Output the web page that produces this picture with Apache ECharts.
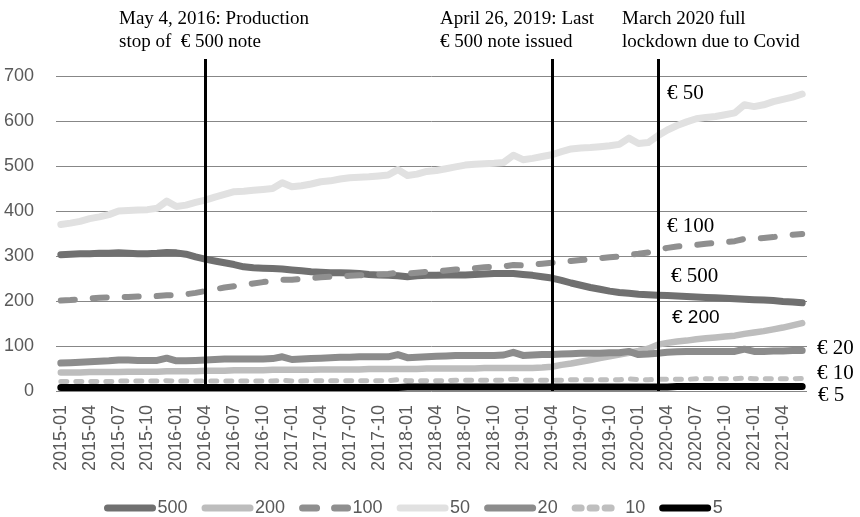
<!DOCTYPE html>
<html>
<head>
<meta charset="utf-8">
<script src="https://cdn.jsdelivr.net/npm/echarts@6/dist/echarts.min.js"></script>
<style>
  html, body { margin: 0; padding: 0; background: #fff; }
  #chart { width: 860px; height: 517px; }
</style>
</head>
<body>
<div id="chart"></div>
<script>
var months = [
  '2015-01','2015-02','2015-03','2015-04','2015-05','2015-06','2015-07','2015-08','2015-09','2015-10','2015-11','2015-12',
  '2016-01','2016-02','2016-03','2016-04','2016-05','2016-06','2016-07','2016-08','2016-09','2016-10','2016-11','2016-12',
  '2017-01','2017-02','2017-03','2017-04','2017-05','2017-06','2017-07','2017-08','2017-09','2017-10','2017-11','2017-12',
  '2018-01','2018-02','2018-03','2018-04','2018-05','2018-06','2018-07','2018-08','2018-09','2018-10','2018-11','2018-12',
  '2019-01','2019-02','2019-03','2019-04','2019-05','2019-06','2019-07','2019-08','2019-09','2019-10','2019-11','2019-12',
  '2020-01','2020-02','2020-03','2020-04','2020-05','2020-06','2020-07','2020-08','2020-09','2020-10','2020-11','2020-12',
  '2021-01','2021-02','2021-03','2021-04','2021-05','2021-06'
];

var note500 = [303,304,305,305,306,306,307,306,305,305,306,308,
  307,304,298,293,289,285,281,276,274,273,272,271,
  269,267,265,264,263,263,262,261,259,258,257,256,
  254,256,257,257,258,258,258,259,260,261,261,261,
  259,257,254,251,246,240,235,230,226,222,219,217,
  215,214,213,212,211,210,209,208,207,206,205,204,
  203,202,201,199,198,196];

var note200 = [41,41,41,42,42,42,42,43,43,43,43,44,
  44,44,44,45,45,45,46,46,46,46,47,47,
  47,47,47,48,48,48,48,48,49,49,49,49,
  49,49,50,50,50,50,50,50,51,51,51,51,
  51,51,52,54,58,61,65,69,73,77,81,85,
  89,94,103,107,110,112,115,117,119,121,123,127,
  130,133,137,141,146,151];

var note100 = [201,202,204,206,207,208,209,209,210,210,211,213,
  213,215,218,222,226,230,233,236,239,242,244,247,
  247,249,251,253,254,255,256,257,258,259,260,263,
  261,263,265,266,268,270,271,273,275,276,277,280,
  279,281,283,285,287,289,291,293,295,297,299,303,
  305,308,314,318,321,323,325,327,329,331,333,338,
  338,340,342,345,347,349];

var note50 = [370,373,377,383,387,392,400,401,402,403,406,422,
  410,413,419,424,431,437,443,444,446,448,450,463,
  454,456,460,465,467,471,474,475,476,478,480,492,
  479,482,488,490,494,498,502,504,505,506,508,524,
  514,517,521,525,532,538,540,541,543,545,548,562,
  550,552,567,580,590,598,605,608,610,614,618,636,
  632,636,643,648,653,660];

var note20 = [62,63,64,65,66,67,69,69,68,68,68,73,
  67,67,68,69,70,71,71,71,71,71,72,76,
  70,71,72,73,74,75,75,76,76,76,76,81,
  74,75,76,77,78,79,79,79,79,79,80,86,
  79,80,81,81,82,83,84,84,84,85,85,88,
  81,82,84,86,87,88,88,88,88,88,88,93,
  88,88,89,89,90,90];

var note10 = [21,21,21,21,21,21,22,22,22,22,22,23,
  22,22,22,22,22,22,22,22,22,22,22,24,
  22,22,23,23,23,23,23,23,23,23,23,25,
  23,23,23,23,23,24,24,24,24,24,24,26,
  24,24,24,24,24,25,25,25,25,25,25,27,
  25,25,26,26,26,26,27,27,27,27,27,29,
  27,27,27,27,27,28];

var note5 = [8,8,8,8,8,8,8,8,8,8,8,8,
  8,8,8,8,8,8,8,8,8,8,8,8,
  8,8,8,8,8,8,8,8,8,8,8,8,
  9,9,9,9,9,9,9,9,9,9,9,9,
  9,9,9,9,9,9,9,9,9,9,9,9,
  9,9,9,9,10,10,10,10,10,10,10,10,
  10,10,10,10,10,10];

var eventMonths = ['2016-04', '2019-04', '2020-03'];
var eventTexts = [
  'May 4, 2016: Production\nstop of  \u20ac 500 note',
  'April 26, 2019: Last\n\u20ac 500 note issued',
  'March 2020 full\nlockdown due to Covid'
];

var chart = echarts.init(document.getElementById('chart'));

var serif = '"Liberation Serif", "Times New Roman", serif';
var sans = '"Liberation Sans", Arial, sans-serif';

function lineSeries(name, data, color, width, type) {
  return {
    name: name,
    type: 'line',
    data: data,
    symbol: 'none',
    silent: true,
    animation: false,
    lineStyle: { color: color, width: width, type: type || 'solid', cap: 'round', join: 'round' },
    itemStyle: { color: color }
  };
}

var series = [
  lineSeries('500', note500, '#707070', 7),
  lineSeries('200', note200, '#bdbdbd', 6.5),
  lineSeries('100', note100, '#8f8f8f', 6, [14, 18]),
  lineSeries('50', note50, '#e1e1e1', 7),
  lineSeries('20', note20, '#8c8c8c', 7),
  lineSeries('10', note10, '#bfbfbf', 5, [6, 9]),
  lineSeries('5', note5, '#000000', 7),
  {
    name: 'events',
    type: 'line',
    xAxisIndex: 1,
    yAxisIndex: 1,
    data: [],
    z: 10,
    markLine: {
      silent: true,
      symbol: 'none',
      animation: false,
      label: { show: false },
      lineStyle: { color: '#000', width: 3, type: 'solid' },
      data: eventMonths.map(function (m) { return { xAxis: m }; })
    }
  }
];

var textLabels = [
  { text: '\u20ac 50', x: 667, y: 94, font: serif, size: 21 },
  { text: '\u20ac 100', x: 667, y: 227, font: serif, size: 21 },
  { text: '\u20ac 500', x: 671, y: 277, font: serif, size: 21 },
  { text: '\u20ac 200', x: 672, y: 319, font: sans, size: 19 },
  { text: '\u20ac 20', x: 817, y: 349, font: serif, size: 21 },
  { text: '\u20ac 10', x: 817, y: 374, font: serif, size: 21 },
  { text: '\u20ac 5', x: 818, y: 396, font: serif, size: 21 }
];
var eventX = [119, 440, 622];

var graphics = textLabels.map(function (t) {
  return {
    type: 'text', left: t.x, top: t.y - t.size / 2 - 1, z: 20,
    style: { text: t.text, fill: '#000', font: t.size + 'px ' + t.font }
  };
});
eventTexts.forEach(function (t, i) {
  graphics.push({
    type: 'text', left: eventX[i], top: 8, z: 20,
    style: { text: t, fill: '#000', font: '19px ' + serif, lineHeight: 23 }
  });
});

var option = {
  animation: false,
  backgroundColor: '#fff',
  grid: [
    { left: 56, right: 53, top: 76, bottom: 126 },
    { left: 56, right: 53, top: 59, bottom: 126 }
  ],
  legend: {
    data: ['500', '200', '100', '50', '20', '10', '5'],
    left: 99,
    top: 494,
    itemWidth: 45,
    itemHeight: 7,
    itemGap: 14,
    lineStyle: { width: 7 },
    itemStyle: { opacity: 0 },
    textStyle: { color: '#595959', fontSize: 18, fontFamily: sans }
  },
  xAxis: [
    {
      type: 'category',
      data: months,
      boundaryGap: true,
      axisLine: { show: false },
      axisTick: { show: false },
      axisLabel: {
        interval: 2,
        rotate: 90,
        margin: 14,
        color: '#595959',
        fontSize: 18,
        fontFamily: sans
      },
      splitLine: { show: false }
    },
    {
      type: 'category',
      gridIndex: 1,
      data: months,
      boundaryGap: true,
      show: false
    }
  ],
  yAxis: [
    {
      type: 'value',
      min: 0,
      max: 700,
      interval: 100,
      axisLine: { show: false },
      axisTick: { show: false },
      axisLabel: { color: '#595959', fontSize: 18, fontFamily: sans, margin: 22 },
      splitLine: { lineStyle: { color: '#878787', width: 1 } }
    },
    {
      type: 'value',
      gridIndex: 1,
      min: 0,
      max: 1,
      show: false,
      splitLine: { show: false }
    }
  ],
  series: series,
  graphic: graphics
};

chart.setOption(option);
</script>
</body>
</html>
